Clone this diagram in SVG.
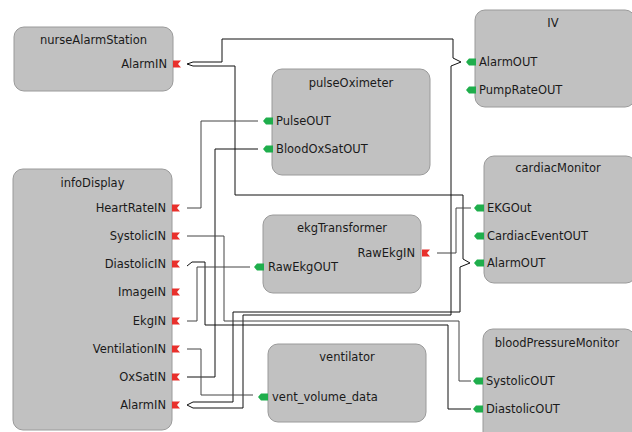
<svg xmlns="http://www.w3.org/2000/svg" xmlns:xlink="http://www.w3.org/1999/xlink" width="632" height="432" viewBox="0 0 632 432">
  <style>
    .box { fill: #c1c1c1; stroke: #9a9a9a; stroke-width: 1; }
    .title { font-family: "DejaVu Sans", "Liberation Sans", sans-serif; font-size: 11.5px; fill: #1a1a1a; text-anchor: middle; }
    .lbl { font-family: "DejaVu Sans", "Liberation Sans", sans-serif; font-size: 11.5px; fill: #1a1a1a; }
    .in { text-anchor: end; }
    .wire { fill: none; stroke: #111; stroke-width: 1; }
    .wire2 { fill: none; stroke: #444; stroke-width: 1; }
  </style>
  <defs>
    <!-- input port: red flag with a notch on its right side -->
    <path id="inPort" d="M0,-3.5 H8 L5,0 L8,3.5 H0 Z" fill="#e8302c"/>
    <!-- output port: green tab pointing left -->
    <path id="outPort" d="M0,0 L3,-3.5 H10 V3.5 H3 Z" fill="#1fae4c"/>
  </defs>

  <rect width="632" height="432" fill="#ffffff"/>

  <g id="connectors">
    <!-- IV.AlarmOUT -> nurseAlarmStation.AlarmIN -->
    <path class="wire" d="M461,62 L453,58 L453,39 L222,39 L222,62 L193,62 L187,64"/>
    <!-- cardiacMonitor.AlarmOUT -> nurseAlarmStation.AlarmIN -->
    <path class="wire" d="M470,263 L463,259 L463,195 L235,195 L235,66 L193,66 L187,64"/>
    <!-- cardiacMonitor.AlarmOUT -> infoDisplay.AlarmIN -->
    <path class="wire" d="M470,263 L460,267 L460,312 L233,312 L233,402 L193,402 L187,405"/>
    <!-- IV.AlarmOUT -> infoDisplay.AlarmIN -->
    <path class="wire" d="M461,62 L451,66 L451,315 L243,315 L243,408 L193,408 L187,405"/>
    <!-- pulseOximeter.PulseOUT -> infoDisplay.HeartRateIN -->
    <path class="wire2" d="M258,121 L201,121 L201,208 L187,208"/>
    <!-- pulseOximeter.BloodOxSatOUT -> infoDisplay.OxSatIN -->
    <path class="wire" d="M258,149 L215,149 L215,377 L187,377"/>
    <!-- bloodPressureMonitor.SystolicOUT -> infoDisplay.SystolicIN -->
    <path class="wire2" d="M187,236 L224,236 L224,321 L459,321 L459,381 L471,381"/>
    <!-- bloodPressureMonitor.DiastolicOUT -> infoDisplay.DiastolicIN -->
    <path class="wire" d="M187,266 L192,262 L205,262 L205,325 L448,325 L448,409 L471,409"/>
    <!-- ekgTransformer.RawEkgOUT -> infoDisplay.EkgIN -->
    <path class="wire2" d="M250,267 L197,267 L197,321 L187,321"/>
    <!-- ventilator.vent_volume_data -> infoDisplay.VentilationIN -->
    <path class="wire2" d="M187,349 L201,349 L201,395 L253,395"/>
    <!-- cardiacMonitor.EKGOut -> ekgTransformer.RawEkgIN -->
    <path class="wire2" d="M471,208 L456,208 L456,253 L437,253"/>
  </g>

  <g id="nurseAlarmStation">
    <rect class="box" x="14" y="27" width="159" height="64" rx="10"/>
    <text class="title" x="93.5" y="44">nurseAlarmStation</text>
    <text class="lbl in" x="167" y="68">AlarmIN</text>
    <use xlink:href="#inPort" x="173" y="64"/>
  </g>

  <g id="IV">
    <rect class="box" x="475" y="10" width="160" height="97" rx="10"/>
    <text class="title" x="553" y="27">IV</text>
    <use xlink:href="#outPort" x="466" y="62"/>
    <text class="lbl" x="479" y="66">AlarmOUT</text>
    <use xlink:href="#outPort" x="466" y="90"/>
    <text class="lbl" x="479" y="94">PumpRateOUT</text>
  </g>

  <g id="pulseOximeter">
    <rect class="box" x="272" y="69" width="158" height="106" rx="10"/>
    <text class="title" x="351" y="87">pulseOximeter</text>
    <use xlink:href="#outPort" x="263" y="121"/>
    <text class="lbl" x="276" y="125">PulseOUT</text>
    <use xlink:href="#outPort" x="263" y="149"/>
    <text class="lbl" x="276" y="153">BloodOxSatOUT</text>
  </g>

  <g id="infoDisplay">
    <rect class="box" x="13" y="169" width="159" height="261" rx="10"/>
    <text class="title" x="92.5" y="187">infoDisplay</text>
    <text class="lbl in" x="166" y="212">HeartRateIN</text>
    <use xlink:href="#inPort" x="172" y="208"/>
    <text class="lbl in" x="166" y="240">SystolicIN</text>
    <use xlink:href="#inPort" x="172" y="236"/>
    <text class="lbl in" x="166" y="268">DiastolicIN</text>
    <use xlink:href="#inPort" x="172" y="264"/>
    <text class="lbl in" x="166" y="296">ImageIN</text>
    <use xlink:href="#inPort" x="172" y="292"/>
    <text class="lbl in" x="166" y="325">EkgIN</text>
    <use xlink:href="#inPort" x="172" y="321"/>
    <text class="lbl in" x="166" y="353">VentilationIN</text>
    <use xlink:href="#inPort" x="172" y="349"/>
    <text class="lbl in" x="166" y="381">OxSatIN</text>
    <use xlink:href="#inPort" x="172" y="377"/>
    <text class="lbl in" x="166" y="409">AlarmIN</text>
    <use xlink:href="#inPort" x="172" y="405"/>
  </g>

  <g id="ekgTransformer">
    <rect class="box" x="263" y="215" width="158" height="78" rx="10"/>
    <text class="title" x="342" y="232">ekgTransformer</text>
    <text class="lbl in" x="415" y="257">RawEkgIN</text>
    <use xlink:href="#inPort" x="422" y="253"/>
    <use xlink:href="#outPort" x="254" y="267"/>
    <text class="lbl" x="268" y="271">RawEkgOUT</text>
  </g>

  <g id="cardiacMonitor">
    <rect class="box" x="484" y="156" width="152" height="127" rx="10"/>
    <text class="title" x="558" y="172">cardiacMonitor</text>
    <use xlink:href="#outPort" x="474" y="208"/>
    <text class="lbl" x="487" y="212">EKGOut</text>
    <use xlink:href="#outPort" x="474" y="236"/>
    <text class="lbl" x="487" y="240">CardiacEventOUT</text>
    <use xlink:href="#outPort" x="474" y="263"/>
    <text class="lbl" x="487" y="267">AlarmOUT</text>
  </g>

  <g id="ventilator">
    <rect class="box" x="268" y="344" width="158" height="78" rx="10"/>
    <text class="title" x="347" y="361">ventilator</text>
    <use xlink:href="#outPort" x="258" y="397"/>
    <text class="lbl" x="272" y="401">vent_volume_data</text>
  </g>

  <g id="bloodPressureMonitor">
    <rect class="box" x="483" y="329" width="152" height="115" rx="10"/>
    <text class="title" x="557" y="347">bloodPressureMonitor</text>
    <use xlink:href="#outPort" x="473" y="381"/>
    <text class="lbl" x="486" y="385">SystolicOUT</text>
    <use xlink:href="#outPort" x="473" y="409"/>
    <text class="lbl" x="486" y="413">DiastolicOUT</text>
  </g>
</svg>
